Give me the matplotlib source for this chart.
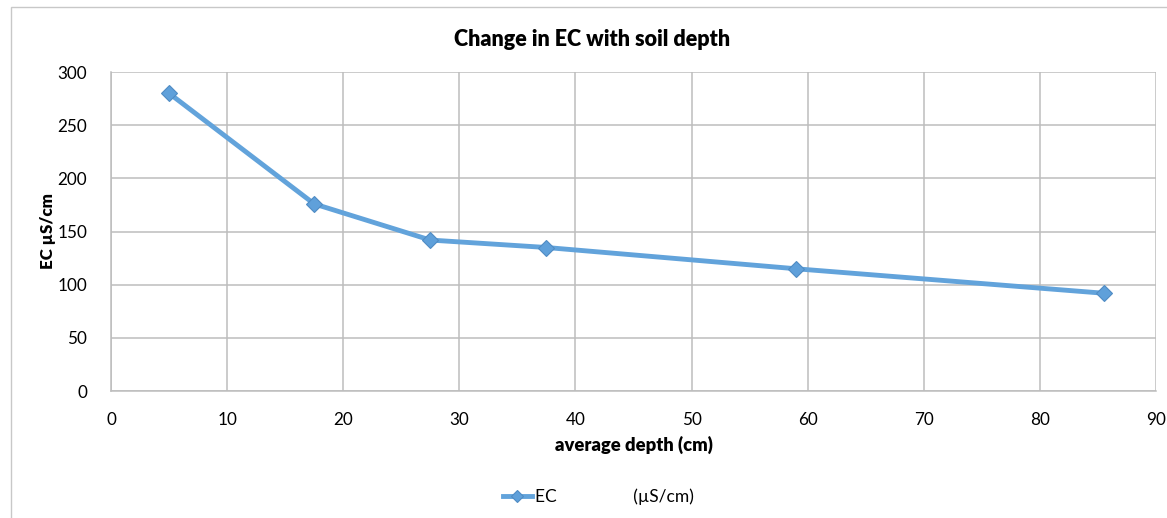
import matplotlib
matplotlib.use("Agg")
import matplotlib.pyplot as plt
from matplotlib.patches import Rectangle

depth = [5, 17.5, 27.5, 37.5, 59, 85.5]
ec = [280, 176, 142, 135, 115, 92]
xticks = [0, 10, 20, 30, 40, 50, 60, 70, 80, 90]
yticks = [0, 50, 100, 150, 200, 250, 300]

plt.rcParams['font.family'] = ['Lato', 'DejaVu Sans']

fig = plt.figure(figsize=(11.67, 5.18), dpi=100)
ax = fig.add_axes([0.0951, 0.245, 0.8955, 0.616])

line_color = '#62A3DB'
ax.plot(depth, ec, color=line_color, lw=3.5, marker='D', ms=8.5,
        markerfacecolor='#5FA0DA', markeredgecolor='#4F8CC4', markeredgewidth=0.8,
        label='EC                 (µS/cm)', zorder=3)

ax.set_xlim(0, 90)
ax.set_ylim(0, 300)
ax.set_xticks(xticks)
ax.set_yticks(yticks)
ax.grid(True, color='#BDBDBD', lw=1.1)
ax.set_axisbelow(True)
for s in ['top', 'right']:
    ax.spines[s].set_visible(False)
for s in ['left', 'bottom']:
    ax.spines[s].set_color('#BDBDBD')
    ax.spines[s].set_linewidth(1.1)
ax.tick_params(axis='y', length=0, labelsize=12.3, pad=17, colors='black')
ax.tick_params(axis='x', length=0, labelsize=12.3, pad=15, colors='black')

fig.text(592 / 1167, 1 - 40 / 518, 'Change in EC with soil depth', fontsize=15.5,
         fontweight='heavy', ha='center', va='center')
ax.set_xlabel('average depth (cm)', fontsize=13.2, fontweight='heavy', labelpad=6)
ax.set_ylabel('EC µS/cm', fontsize=12.2, fontweight='heavy', labelpad=1)

leg = fig.legend(loc='center', bbox_to_anchor=(598 / 1167, 1 - 497 / 518), frameon=False,
                 fontsize=12.5, handlelength=1.7, handletextpad=0.15, markerscale=0.7)

fig.patches.append(Rectangle((11 / 1167, -0.1), 1.2, 1 - 7 / 518 + 0.1,
                             transform=fig.transFigure, fill=False,
                             edgecolor='#C8C8C8', lw=1, zorder=0))

fig.savefig('out.png', dpi=100)
